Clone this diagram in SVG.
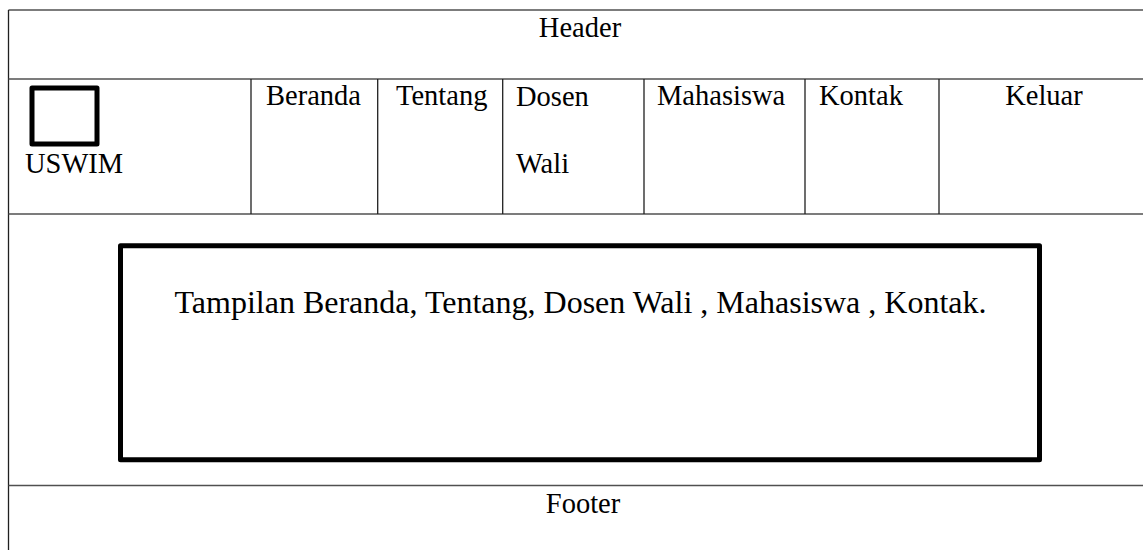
<svg xmlns="http://www.w3.org/2000/svg" width="1143" height="550" viewBox="0 0 1143 550">
<style>
.t{font-family:"Liberation Serif","Times New Roman",serif;font-size:28.5px;fill:#000}
.big{font-size:32px}
.h{stroke:#505050;stroke-width:1.6;fill:none}
.v{stroke:#202020;stroke-width:1.3;fill:none}
.thick{stroke:#000;stroke-width:5;fill:#fff;stroke-linejoin:round}
</style>
<rect width="1143" height="550" fill="#fff"/>
<g id="frame">
<line class="h" x1="8.5" y1="10" x2="1143" y2="10"/>
<line class="v" x1="8.5" y1="10" x2="8.5" y2="550"/>
<line class="h" x1="8.5" y1="79" x2="1143" y2="79"/>
<line class="h" x1="8.5" y1="214" x2="1143" y2="214"/>
<line class="h" x1="8.5" y1="485.5" x2="1143" y2="485.5"/>
</g>
<g id="header"><text class="t" x="580" y="37" text-anchor="middle">Header</text></g>
<g id="logo">
<rect class="thick" x="32" y="88" width="65" height="56"/>
<text class="t" x="25" y="173">USWIM</text>
</g>
<g id="nav-lines">
<line class="v" x1="251" y1="79" x2="251" y2="214"/>
<line class="v" x1="377.7" y1="79" x2="377.7" y2="214"/>
<line class="v" x1="502.7" y1="79" x2="502.7" y2="214"/>
<line class="v" x1="644" y1="79" x2="644" y2="214"/>
<line class="v" x1="805" y1="79" x2="805" y2="214"/>
<line class="v" x1="939" y1="79" x2="939" y2="214"/>
</g>
<g id="beranda"><text class="t" x="266" y="105">Beranda</text></g>
<g id="tentang"><text class="t" x="396" y="105">Tentang</text></g>
<g id="dosen"><text class="t" x="516" y="106">Dosen</text><text class="t" x="516" y="173">Wali</text></g>
<g id="mahasiswa"><text class="t" x="657" y="105">Mahasiswa</text></g>
<g id="kontak"><text class="t" x="819" y="105">Kontak</text></g>
<g id="keluar"><text class="t" x="1044" y="105" text-anchor="middle">Keluar</text></g>
<g id="content">
<rect class="thick" x="120.5" y="245.8" width="919" height="214"/>
<text class="t big" x="580.5" y="313" text-anchor="middle">Tampilan Beranda, Tentang, Dosen Wali , Mahasiswa , Kontak.</text>
</g>
<g id="footer"><text class="t" x="583" y="513" text-anchor="middle">Footer</text></g>
<g id="connectors"></g>
</svg>
